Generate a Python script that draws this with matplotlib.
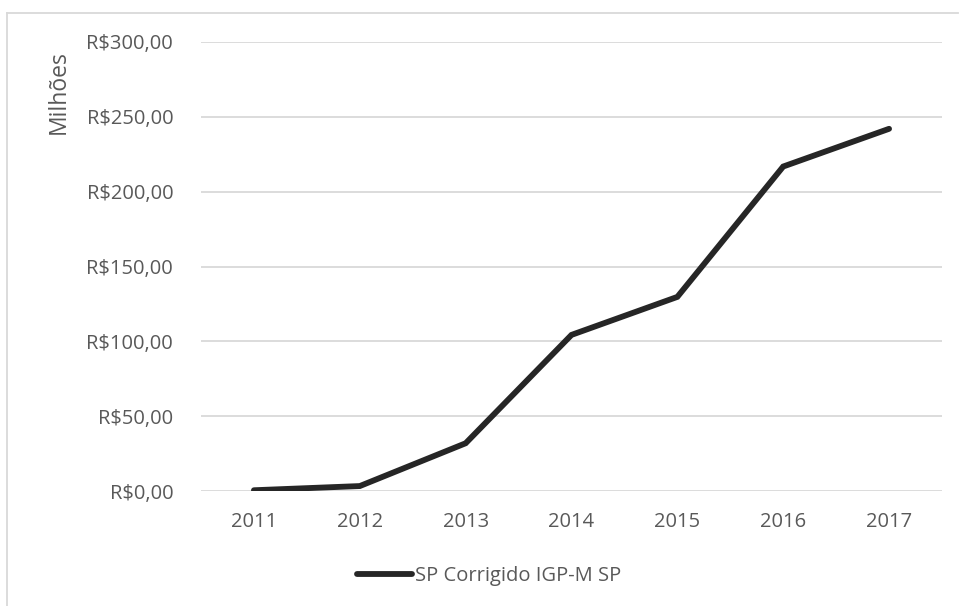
import matplotlib
matplotlib.use("Agg")
import matplotlib.pyplot as plt
from matplotlib.lines import Line2D

# valores em milhões de reais
anos = ["2011", "2012", "2013", "2014", "2015", "2016", "2017"]
valores = [0.5, 3.3, 31.9, 104.3, 129.7, 216.8, 242.0]
yticks = [0, 50, 100, 150, 200, 250, 300]
serie = "SP Corrigido IGP-M SP"

plt.rcParams["font.family"] = ["Open Sans", "DejaVu Sans"]
texto = "#595959"

fig = plt.figure(figsize=(9.59, 6.06), dpi=100)
ax = fig.add_axes([201 / 959, 1 - 491 / 606, 741 / 959, 449 / 606])

x = list(range(len(anos)))
ax.plot(x, valores, color="#262626", linewidth=4.2, solid_capstyle="round",
        solid_joinstyle="miter", label=serie, zorder=3)

ax.set_xlim(-0.5, len(anos) - 0.5)
ax.set_ylim(0, 300)
ax.set_yticks(yticks)
ax.set_yticklabels([f"R${v},00" for v in yticks])
ax.set_xticks(x)
ax.set_xticklabels(anos)
ax.tick_params(axis="both", length=0, labelsize=14.5, labelcolor=texto)
ax.tick_params(axis="y", pad=20)
ax.tick_params(axis="x", pad=15)

ax.grid(axis="y", color="#d9d9d9", linewidth=1.3)
ax.set_axisbelow(True)
for s in ax.spines.values():
    s.set_visible(False)

fig.text(59 / 959, 1 - 92 / 606, "Milhões", rotation=90, ha="center",
         va="center", fontsize=16.5, color=texto)

leg = ax.legend(loc="center left", bbox_to_anchor=(357 / 959, 1 - 576 / 606),
                bbox_transform=fig.transFigure, frameon=False, fontsize=14.5,
                handlelength=2.75, handletextpad=0.15, borderpad=0,
                borderaxespad=0)
for t in leg.get_texts():
    t.set_color(texto)

# moldura do gráfico (só topo e esquerda aparecem)
fig.add_artist(Line2D([7 / 959, 958 / 959], [1 - 13 / 606, 1 - 13 / 606],
                      transform=fig.transFigure, color="#d9d9d9", linewidth=1.3))
fig.add_artist(Line2D([7 / 959, 7 / 959], [1 - 13 / 606, 0],
                      transform=fig.transFigure, color="#d9d9d9", linewidth=1.3))

fig.savefig("out.png", dpi=100)
